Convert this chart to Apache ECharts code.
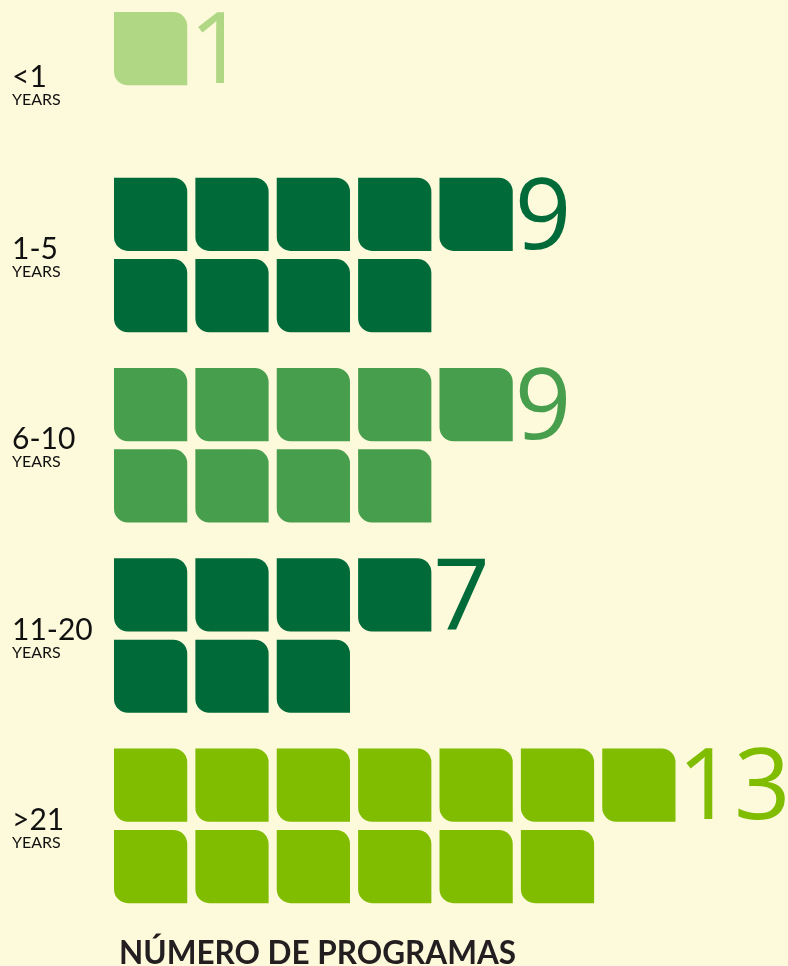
<!DOCTYPE html>
<html>
<head>
<meta charset="utf-8">
<script src="https://cdn.jsdelivr.net/npm/echarts@6/dist/echarts.min.js"></script>
<style>
html,body{margin:0;padding:0;background:#FDF9DB;}
#chart{width:788px;height:966px;}
</style>
</head>
<body>
<div id="chart"></div>
<script>
const categories = ['<1', '1-5', '6-10', '11-20', '>21'];
const unitLabel = 'YEARS';
const values = [1, 9, 9, 7, 13];
const colors = ['#B0D783', '#006A39', '#479E4D', '#006A39', '#80BC00'];
const axisTitle = 'NÚMERO DE PROGRAMAS';

const FONT = 'Lato, "Open Sans", sans-serif';
const NUMFONT = '"Open Sans", Lato, sans-serif';

// build one data item per unit square
const unitData = [];
values.forEach(function (n, i) {
  const top = Math.ceil(n / 2);
  for (let k = 0; k < n; k++) {
    const row = k < top ? 0 : 1;
    const col = row === 0 ? k : k - top;
    const lastTop = (k === top - 1) ? 1 : 0;
    unitData.push({ value: [col, i, row, n, lastTop], itemStyle: { color: colors[i] } });
  }
});

const chart = echarts.init(document.getElementById('chart'));

function renderItem(params, api) {
  const col = api.value(0), cat = api.value(1), row = api.value(2);
  const n = api.value(3), lastTop = api.value(4);
  const p0 = api.coord([col, cat]);
  const p1 = api.coord([col + 1, cat]);
  const pitch = p1[0] - p0[0];
  const size = pitch * 0.9;
  const gap = pitch - size;
  let y;
  if (n <= 1) {
    y = p0[1] - size / 2 - 16;
  } else {
    y = row === 0 ? p0[1] - gap / 2 - size : p0[1] + gap / 2;
  }
  const color = colors[cat];
  const r = size * 0.19;
  const children = [{
    type: 'rect',
    shape: { x: p0[0], y: y, width: size, height: size, r: [0, r, 0, r] },
    style: { fill: color }
  }];
  if (lastTop) {
    children.push({
      type: 'text',
      style: {
        x: p0[0] + size + 2,
        y: y + size / 2 + 6,
        text: String(n),
        fill: color,
        font: '400 99px ' + NUMFONT,
        align: 'left',
        verticalAlign: 'middle'
      }
    });
  }
  if (col === 0 && row === 0) {
    const base = api.coord([0, cat]);
    children.push({
      type: 'text',
      style: {
        x: base[0] - 102,
        y: base[1] + (n <= 1 ? 21 : 3),
        text: '{a|' + categories[cat] + '}\n{b|' + unitLabel + '}',
        align: 'left',
        verticalAlign: 'middle',
        rich: {
          a: { fontFamily: FONT, fontSize: 30, lineHeight: 28, fill: '#111', color: '#111' },
          b: { fontFamily: FONT, fontSize: 16, lineHeight: 17, fill: '#111', color: '#111' }
        }
      }
    });
  }
  return { type: 'group', children: children };
}

chart.setOption({
  backgroundColor: '#FDF9DB',
  animation: false,
  title: {
    text: axisTitle,
    left: 114,
    top: 933,
    textStyle: { fontFamily: FONT, fontSize: 31.5, fontWeight: 'bold', color: '#231F20' }
  },
  grid: { left: 114, top: 0, width: 651, bottom: 45, containLabel: false },
  xAxis: {
    type: 'value', min: 0, max: 8,
    show: false
  },
  yAxis: {
    type: 'value',
    inverse: true,
    min: -0.34,
    max: 4.5,
    show: false
  },
  series: [{
    type: 'custom',
    renderItem: renderItem,
    encode: { x: 0, y: 1 },
    data: unitData,
    clip: false
  }]
});
</script>
</body>
</html>
